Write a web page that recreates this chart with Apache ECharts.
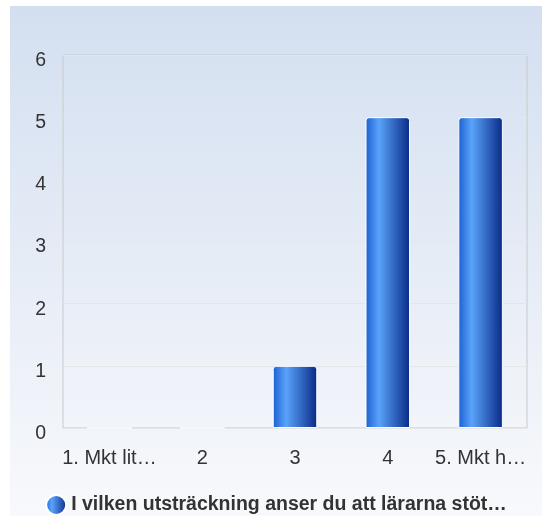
<!DOCTYPE html>
<html>
<head>
<meta charset="utf-8">
<script src="https://cdn.jsdelivr.net/npm/echarts@6/dist/echarts.min.js"></script>
<style>
  html, body { margin: 0; padding: 0; background: #ffffff; }
  #chart { position: absolute; left: 10px; top: 6px; width: 532px; height: 510px; }
</style>
</head>
<body>
<div id="chart"></div>
<script>
'use strict';
// data
var categories = ['1. Mkt lit\u2026', '2', '3', '4', '5. Mkt h\u2026'];
var values = [0, 0, 1, 5, 5];
var seriesName = 'I vilken utstr\u00e4ckning anser du att l\u00e4rarna st\u00f6t\u2026';
var yTicks = [0, 1, 2, 3, 4, 5, 6];

var barColor = new echarts.graphic.LinearGradient(0, 0, 1, 0, [
  { offset: 0, color: '#1b5fd2' },
  { offset: 0.3, color: '#5aa3fa' },
  { offset: 1, color: '#082a86' }
]);

var chart = echarts.init(document.getElementById('chart'));
var option = {
  backgroundColor: new echarts.graphic.LinearGradient(0, 0, 0, 1, [
    { offset: 0, color: '#d3dff0' },
    { offset: 1, color: '#f8f9fc' }
  ]),
  animation: false,
  textStyle: { fontFamily: '"Liberation Sans", Arial, sans-serif' },
  grid: {
    left: 53, top: 49, right: 15, bottom: 88,
    show: true, borderColor: '#cacaca', borderWidth: 1
  },
  legend: {
    top: 488,
    left: 'center',
    padding: 0,
    icon: 'circle',
    itemWidth: 20,
    itemHeight: 20,
    itemGap: 6,
    textStyle: { fontSize: 19.5, fontWeight: 'bold', color: '#333333' },
    data: [seriesName]
  },
  xAxis: {
    type: 'category',
    data: categories,
    axisLine: { show: false },
    axisTick: { show: false },
    axisLabel: { color: '#333333', fontSize: 20, margin: 20, interval: 0 }
  },
  yAxis: {
    type: 'value',
    min: yTicks[0],
    max: yTicks[yTicks.length - 1],
    interval: 1,
    axisLine: { show: false },
    axisTick: { show: false },
    axisLabel: {
      margin: 17,
      formatter: '{v|{value}}',
      rich: { v: { color: '#333333', fontSize: 19.5, padding: [11, 0, 0, 0] } }
    },
    splitLine: { lineStyle: { color: '#e6e6e6' } }
  },
  series: [{
    name: seriesName,
    type: 'bar',
    data: values,
    barWidth: '48%',
    itemStyle: {
      color: barColor,
      borderRadius: [3, 3, 0, 0],
      borderColor: '#ffffff',
      borderWidth: 1
    }
  }]
};
chart.setOption(option);
</script>
</body>
</html>
